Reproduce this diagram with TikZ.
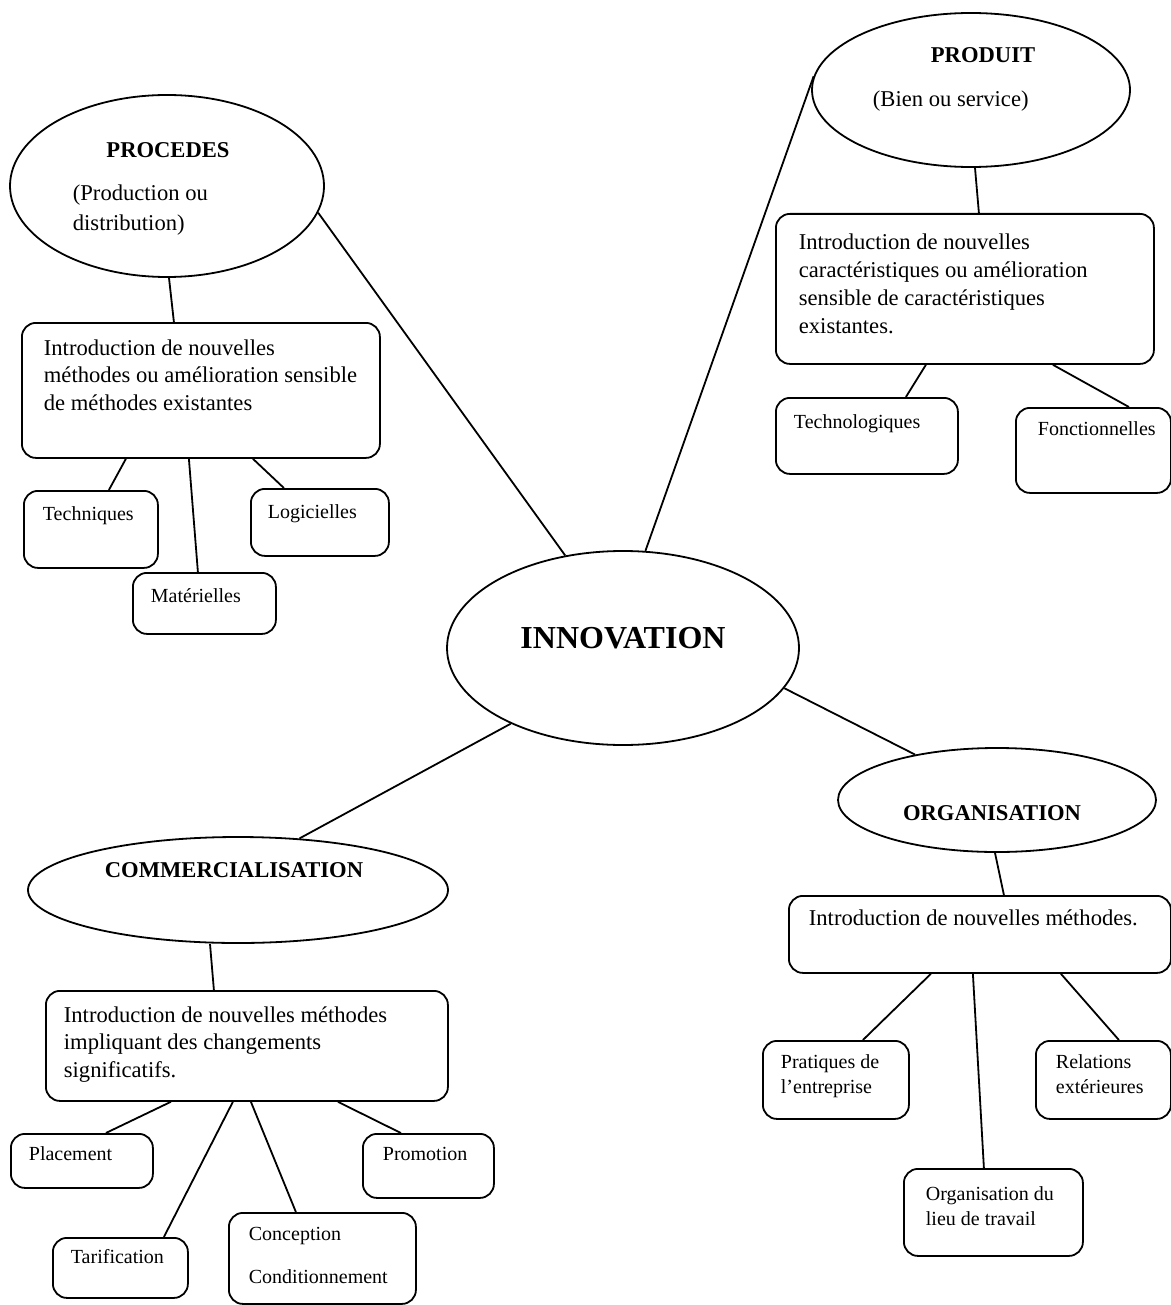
\documentclass[tikz,border=0pt]{standalone}
\usepackage{fontspec}
\setmainfont{Liberation Serif}
\usetikzlibrary{shapes.geometric}

\begin{document}
\begin{tikzpicture}[x=0.5pt, y=-0.5pt, line width=0.9pt,
    oval/.style={draw, ellipse, inner sep=0pt},
    rbox/.style={draw, rounded corners=7pt, inner sep=0pt, anchor=north west},
    body/.style={anchor=base west, align=left, inner sep=0pt, font=\fontsize{11.3}{13.75}\selectfont},
    small/.style={anchor=base west, align=left, inner sep=0pt, font=\fontsize{10}{12.5}\selectfont},
    titre/.style={anchor=base, inner sep=0pt, font=\bfseries\fontsize{11.3}{13.75}\selectfont}]
    \useasboundingbox (0,0) rectangle (1171,1305);

    % centre (texts placed by the baseline of their last line)
    \node[oval, minimum width=176pt, minimum height=97pt] (innov) at (623,648) {};
    \node[titre, font=\bfseries\fontsize{16}{19}\selectfont] (tinnov) at (623,648) {INNOVATION};

    % procedes
    \node[oval, minimum width=157pt, minimum height=91pt] (procedes) at (167,186) {};
    \node[titre] (tprocedes) at (168,158) {PROCEDES};
    \node[body, font=\fontsize{11.3}{15}\selectfont] (sprocedes) at (72,231) {(Production ou\\distribution)};
    \node[rbox, minimum width=179pt, minimum height=67.5pt] (pbox) at (21,322) {};
    \node[body] (tpbox) at (43,410) {Introduction de nouvelles\\méthodes ou amélioration sensible\\de méthodes existantes};
    \node[rbox, minimum width=67pt, minimum height=38.5pt] (tech) at (23,490) {};
    \node[rbox, minimum width=71.5pt, minimum height=30.5pt] (mat) at (132,572) {};
    \node[rbox, minimum width=69pt, minimum height=33.5pt] (logi) at (250,488) {};
    \node[small] (ttech) at (42,520) {Techniques};
    \node[small] (tmat) at (150,602) {Matérielles};
    \node[small] (tlogi) at (267,518) {Logicielles};

    % produit
    \node[oval, minimum width=159pt, minimum height=77pt] (produit) at (971,90) {};
    \node[titre] (tproduit) at (983,63) {PRODUIT};
    \node[body] (sproduit) at (872,107) {(Bien ou service)};
    \node[rbox, minimum width=189pt, minimum height=75pt] (dbox) at (775,213) {};
    \node[body, font=\fontsize{11.3}{13.85}\selectfont] (tdbox) at (798,333) {Introduction de nouvelles\\caractéristiques ou amélioration\\sensible de caractéristiques\\existantes.};
    \node[rbox, minimum width=91pt, minimum height=38pt] (techno) at (775,397) {};
    \node[rbox, minimum width=77.5pt, minimum height=42.5pt] (fonct) at (1015,407) {};
    \node[small] (ttechno) at (793,428) {Technologiques};
    \node[small] (tfonct) at (1037,435) {Fonctionnelles};

    % organisation
    \node[oval, minimum width=159pt, minimum height=52pt] (organ) at (997,800) {};
    \node[titre] (torgan) at (992,820) {ORGANISATION};
    \node[rbox, minimum width=191pt, minimum height=38.5pt] (obox) at (788,895) {};
    \node[body] (tobox) at (808,925) {Introduction de nouvelles méthodes.};
    \node[rbox, minimum width=73pt, minimum height=39pt] (prat) at (762,1040) {};
    \node[rbox, minimum width=67.5pt, minimum height=39pt] (rel) at (1035,1040) {};
    \node[rbox, minimum width=89.5pt, minimum height=43.5pt] (lieu) at (903,1168) {};
    \node[small] (tprat) at (780,1093) {Pratiques de\\l'entreprise};
    \node[small] (trel) at (1055,1093) {Relations\\extérieures};
    \node[small] (tlieu) at (925,1225) {Organisation du\\lieu de travail};

    % commercialisation
    \node[oval, minimum width=210pt, minimum height=53pt] (comm) at (238,890) {};
    \node[titre] (tcomm) at (234,877) {COMMERCIALISATION};
    \node[rbox, minimum width=201pt, minimum height=55pt] (cbox) at (45,990) {};
    \node[body] (tcbox) at (63,1077) {Introduction de nouvelles méthodes\\impliquant des changements\\significatifs.};
    \node[rbox, minimum width=71pt, minimum height=27pt] (plac) at (10,1133) {};
    \node[rbox, minimum width=67.5pt, minimum height=30pt] (tarif) at (52,1237) {};
    \node[rbox, minimum width=93.5pt, minimum height=45.5pt] (concep) at (228,1212) {};
    \node[rbox, minimum width=65.5pt, minimum height=32pt] (promo) at (362,1133) {};
    \node[small] (tplac) at (28,1160) {Placement};
    \node[small] (ttarif) at (70,1263) {Tarification};
    \node[small] (tconcep) at (248,1283) {Conception\\[9pt]Conditionnement};
    \node[small] (tpromo) at (382,1160) {Promotion};

    % liens
    \draw (procedes.-10.5) -- (innov.122.5);
    \draw (innov.77) -- (produit.175.3);
    \draw (innov.-14.3) -- (organ.151.8);
    \draw (innov.214.8) -- (comm.40.2);

    \draw ([xshift=1pt]procedes.south) -- ([xshift=-13.5pt]pbox.north);
    \draw ([xshift=-37.5pt]pbox.south) -- ([xshift=9pt]tech.north);
    \draw ([xshift=-6pt]pbox.south) -- ([xshift=-3.25pt]mat.north);
    \draw ([xshift=26pt]pbox.south) -- ([xshift=-18pt]logi.north);

    \draw ([xshift=2pt]produit.south) -- ([xshift=7pt]dbox.north);
    \draw ([xshift=-19.5pt]dbox.south) -- ([xshift=19.5pt]techno.north);
    \draw ([xshift=44pt]dbox.south) -- ([xshift=17.75pt]fonct.north);

    \draw ([xshift=-1pt]organ.south) -- ([xshift=12pt]obox.north);
    \draw ([xshift=-24.5pt]obox.south) -- ([xshift=13.5pt]prat.north);
    \draw ([xshift=-3.5pt]obox.south) -- ([xshift=-4.75pt]lieu.north);
    \draw ([xshift=40.5pt]obox.south) -- ([xshift=7.75pt]rel.north);

    \draw ([xshift=-14pt]comm.south) -- ([xshift=-16.5pt]cbox.north);
    \draw ([xshift=-38pt]cbox.south) -- ([xshift=12pt]plac.north);
    \draw ([xshift=-7pt]cbox.south) -- ([xshift=21.75pt]tarif.north);
    \draw ([xshift=2pt]cbox.south) -- ([xshift=-13.25pt]concep.north);
    \draw ([xshift=45.5pt]cbox.south) -- ([xshift=-13.75pt]promo.north);
\end{tikzpicture}
\end{document}
